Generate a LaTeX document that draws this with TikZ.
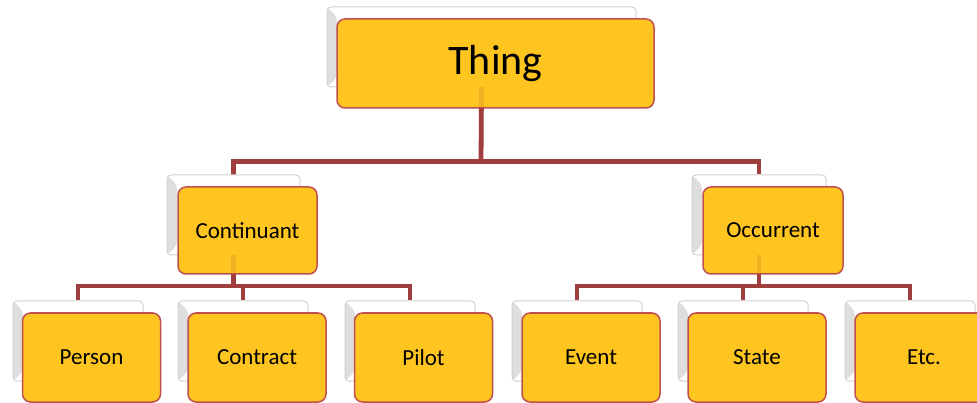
\documentclass[tikz,border=0pt]{standalone}
\usepackage{fontspec}
\setmainfont{Carlito}
\definecolor{boxfill}{RGB}{254,196,31}
\definecolor{boxedge}{RGB}{192,80,77}
\definecolor{linkcol}{RGB}{160,62,62}
\tikzset{
  backbox/.style={draw=black!18, line width=1pt, fill=white, rounded corners=4pt,
    minimum width=130pt, minimum height=80pt, inner sep=0pt,
    path picture={\fill[black!13] (path picture bounding box.north west) -- ([xshift=10pt,yshift=-10pt]path picture bounding box.north west) -- ([xshift=10pt,yshift=10pt]path picture bounding box.south west) -- (path picture bounding box.south west) -- cycle;}},
  frontbox/.style={draw=boxedge, line width=1.5pt, fill=boxfill,
    rounded corners=8pt, minimum width=138pt, minimum height=89pt, inner sep=0pt,
    font=\fontsize{23}{28}\selectfont},
  link/.style={draw=linkcol, line width=4.8pt},
  ghost/.style={draw=linkcol, line width=4.8pt, draw opacity=0.12}
}
\begin{document}
\begin{tikzpicture}[x=1pt,y=-1pt]
\useasboundingbox (0,0) rectangle (977,403);
\clip (0,0) rectangle (977,403);
% back boxes
\node[backbox, minimum width=309pt] (thingB) at (481.5,47) {};
\node[backbox, minimum width=133pt] (contB) at (233.5,215) {};
\node[backbox, minimum width=134pt] (occB) at (759,215) {};
\node[backbox] (persB) at (78,341) {};
\node[backbox] (contrB) at (243,341) {};
\node[backbox] (pilB) at (410,341) {};
\node[backbox] (evB) at (577,341) {};
\node[backbox] (stB) at (743,341) {};
\node[backbox] (etcB) at (910,341) {};
% connectors
\coordinate (j1) at (481,161.5);
\coordinate (j2) at (233.5,286);
\coordinate (j3) at (759,286);
\draw[link] (thingB.south) -- (j1) -| (contB.north);
\draw[link] (j1) -| (occB.north);
\draw[link] (contB.south) -- (j2) -| (persB.north);
\draw[link] (j2) -| (contrB.north);
\draw[link] (j2) -| (pilB.north);
\draw[link] (occB.south) -- (j3) -| (evB.north);
\draw[link] (j3) -| (stB.north);
\draw[link] (j3) -| (etcB.north);
% front boxes
\node[frontbox, minimum width=317pt, font=\fontsize{42}{50}\selectfont] (thing) at (495.5,63.5) {Thing};
\node[frontbox, minimum width=139pt, minimum height=87pt] (cont) at (247.5,230.5) {Continuant};
\node[frontbox, minimum width=140pt, minimum height=87pt] (occ) at (773,230.5) {Occurrent};
\node[frontbox] (pers) at (91.5,357.5) {Person};
\node[frontbox] (contr) at (257,357.5) {Contract};
\node[frontbox] (pil) at (423.5,357.5) {Pilot};
\node[frontbox] (ev) at (591,357.5) {Event};
\node[frontbox] (st) at (757,357.5) {State};
\node[frontbox] (etc) at (924,357.5) {Etc.};
% faint connector traces seen through the front boxes
\draw[ghost] (thingB.south) -- (thingB.south |- thing.south);
\draw[ghost] (contB.south) -- (contB.south |- cont.south);
\draw[ghost] (occB.south) -- (occB.south |- occ.south);
\end{tikzpicture}
\end{document}
